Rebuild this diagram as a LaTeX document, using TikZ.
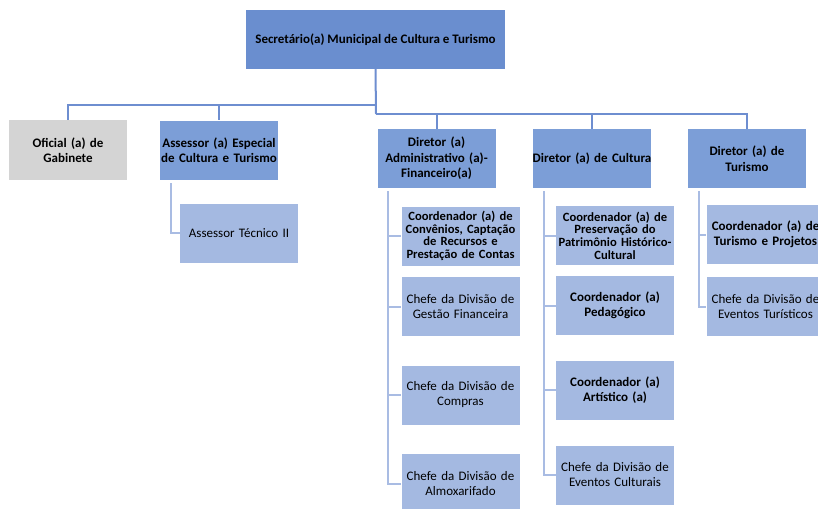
\documentclass[tikz,border=0pt]{standalone}
\usepackage{fontspec}
\setmainfont{Carlito}
\begin{document}
\begin{tikzpicture}[x=1pt,y=-1pt,
  box/.style={draw=none,inner sep=0pt,align=center,font=\fontsize{13}{15}\selectfont},
  lvl0/.style={box,fill=top,minimum width=259pt,minimum height=59pt,font=\bfseries\fontsize{13}{15}\selectfont},
  lvl1/.style={box,fill=mid,minimum width=118pt,minimum height=59pt,text width=118pt,font=\bfseries\fontsize{13}{15.5}\selectfont},
  lvl2/.style={box,fill=light,minimum width=117pt,minimum height=59pt,text width=118pt},
  lvl2b/.style={lvl2,font=\bfseries\fontsize{13}{15}\selectfont},
  tight/.style={font=\bfseries\fontsize{12.6}{12.6}\selectfont},
  gray/.style={box,fill=grayb,minimum width=118pt,minimum height=60pt,text width=118pt,font=\bfseries\fontsize{13}{15.5}\selectfont},
  mainline/.style={draw=linec,line width=2pt},
  subline/.style={draw=sublinec,line width=2pt}]
\definecolor{top}{HTML}{6A8ECF}
\definecolor{mid}{HTML}{7C9ED7}
\definecolor{light}{HTML}{A4B9E1}
\definecolor{grayb}{HTML}{D4D4D4}
\definecolor{linec}{HTML}{6E8ED0}
\definecolor{sublinec}{HTML}{A9BCE3}
\useasboundingbox (0,0) rectangle (818,508);
\clip (0,0) rectangle (818,508);

\node[lvl0] (top) at (375.5,39.5) {Secretário(a) Municipal de Cultura e Turismo};

\node[gray] (ofic) at (68,150) {Oficial (a) de\\Gabinete};
\node[lvl1] (assE) at (219,150) {Assessor (a) Especial\\de Cultura e Turismo};
\node[lvl1] (dirA) at (436.5,158.5) {Diretor (a)\\Administrativo (a)-\\Financeiro(a)};
\node[lvl1] (dirC) at (592,158.5) {\hbox to 118pt{\hss Diretor (a) de Cultura\hss}};
\node[lvl1] (dirT) at (747,158.5) {Diretor (a) de\\Turismo};

\node[lvl2] (asTec) at (239,233) {Assessor Técnico II};

\node[lvl2b,tight] (c1) at (460.5,236) {Coordenador (a) de\\Convênios, Captação\\de Recursos e\\Prestação de Contas};
\node[lvl2] (c2) at (460.5,306.5) {Chefe da Divisão de\\Gestão Financeira};
\node[lvl2] (c3) at (460.5,395) {Chefe da Divisão de\\Compras};
\node[lvl2] (c4) at (460.5,483.5) {Chefe da Divisão de\\Almoxarifado};

\node[lvl2b,tight] (p1) at (615,235.5) {Coordenador (a) de\\Preservação do\\Patrimônio Histórico-\\Cultural};
\node[lvl2b] (p2) at (615,305.5) {Coordenador (a)\\Pedagógico};
\node[lvl2b] (p3) at (615,390) {Coordenador (a)\\Artístico (a)};
\node[lvl2] (p4) at (615,475) {Chefe da Divisão de\\Eventos Culturais};

\node[lvl2b] (t1) at (765.5,234.5) {Coordenador (a) de\\Turismo e Projetos};
\node[lvl2] (t2) at (765.5,306.5) {Chefe da Divisão de\\Eventos Turísticos};

% main connectors
\coordinate (jl) at (376,105);
\coordinate (jr) at (376,114);
\draw[mainline] (top.south) -- (jr);
\draw[mainline] (jl) -| (ofic.north);
\draw[mainline] (jl) -| (assE.north);
\draw[mainline] (jr) -| (dirA.north);
\draw[mainline] (jr) -| (dirC.north);
\draw[mainline] (jr) -| (dirT.north);

% sub connectors
\coordinate (aS) at (171,183);
\draw[subline] (aS) |- (asTec.west);

\coordinate (aA) at (388,191);
\draw[subline] (aA) |- (c4.west);
\draw[subline] (aA) |- (c1.west);
\draw[subline] (aA) |- (c2.west);
\draw[subline] (aA) |- (c3.west);

\coordinate (aC) at (544,191);
\draw[subline] (aC) |- (p4.west);
\draw[subline] (aC) |- (p1.west);
\draw[subline] (aC) |- (p2.west);
\draw[subline] (aC) |- (p3.west);

\coordinate (aT) at (699,191);
\draw[subline] (aT) |- (t2.west);
\draw[subline] (aT) |- (t1.west);
\end{tikzpicture}
\end{document}
